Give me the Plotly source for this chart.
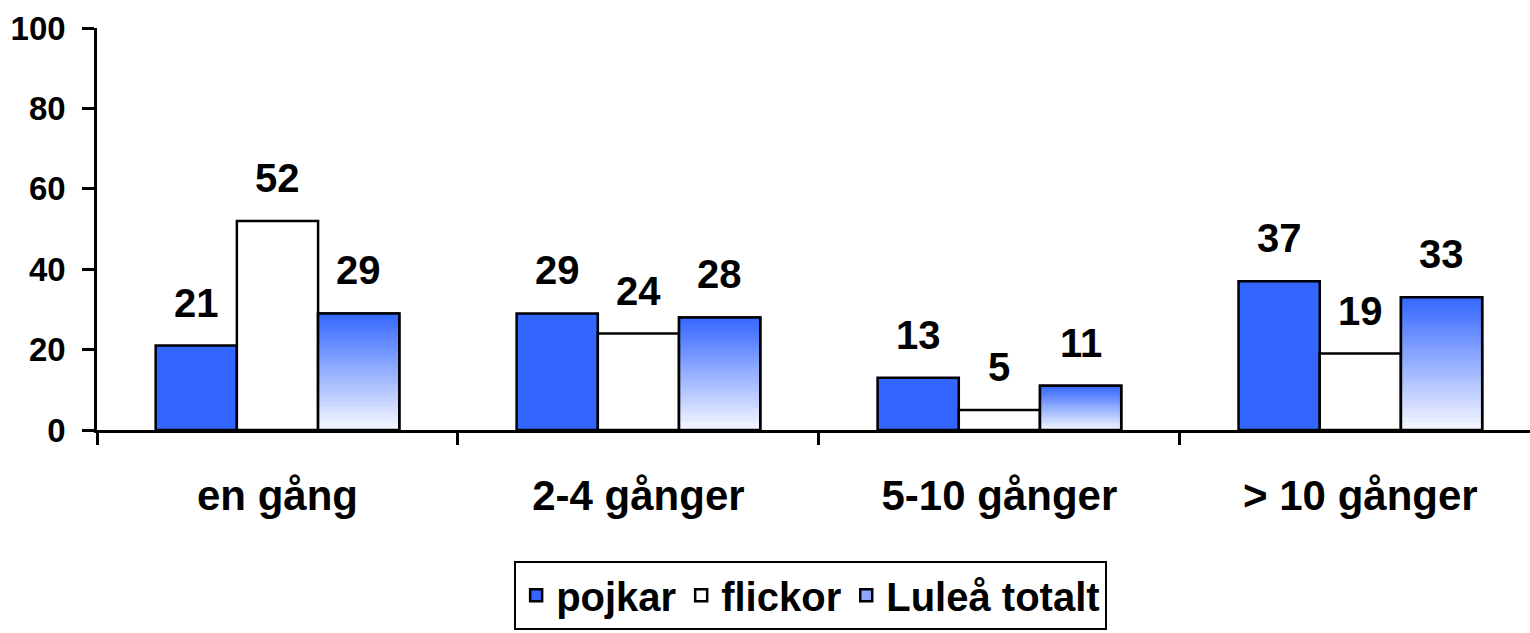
import plotly.graph_objects as go

# ---- data ----
categories = ["en gång", "2-4 gånger", "5-10 gånger", "> 10 gånger"]
pojkar = [21, 29, 13, 37]
flickor = [52, 24, 5, 19]
lulea_totalt = [29, 28, 11, 33]
series_names = ["pojkar", "flickor", "Luleå totalt"]
y_ticks = [0, 20, 40, 60, 80, 100]

# ---- style ----
FONT = "Arial, Liberation Sans, sans-serif"
BLUE = (51, 102, 255)
WHITE = (250, 251, 255)
BARGAP = 0.325
N_SEG = 48
OUTLINE = dict(color="black", width=2.5)

fig = go.Figure()

fig.add_trace(go.Bar(
    x=categories, y=pojkar, name=series_names[0], offsetgroup="a",
    marker=dict(color="rgb(51,102,255)", line=OUTLINE), hoverinfo="skip",
))
fig.add_trace(go.Bar(
    x=categories, y=flickor, name=series_names[1], offsetgroup="b",
    marker=dict(color="white", line=OUTLINE), hoverinfo="skip",
))
# legend entry for the gradient series (covered by gradient segments)
fig.add_trace(go.Bar(
    x=categories, y=lulea_totalt, name=series_names[2], offsetgroup="c",
    marker=dict(color="rgb(140,165,255)", line=OUTLINE), hoverinfo="skip",
))
# vertical gradient: white at bottom -> blue at top
for i in range(N_SEG):
    t = (i + 0.5) / N_SEG
    col = tuple(round(WHITE[k] + t * (BLUE[k] - WHITE[k])) for k in range(3))
    c = "rgb(%d,%d,%d)" % col
    fig.add_trace(go.Bar(
        x=categories,
        y=[v / N_SEG for v in lulea_totalt],
        base=[v * i / N_SEG for v in lulea_totalt],
        offsetgroup="c", showlegend=False, hoverinfo="skip",
        marker=dict(color=c, line=dict(color=c, width=0.6)),
    ))
fig.add_trace(go.Bar(
    x=categories, y=lulea_totalt, offsetgroup="c", showlegend=False,
    marker=dict(color="rgba(0,0,0,0)", line=OUTLINE), hoverinfo="skip",
))

# value labels above bars
bar_w = (1 - BARGAP) / 3
for j, vals in enumerate([pojkar, flickor, lulea_totalt]):
    for i, v in enumerate(vals):
        fig.add_annotation(
            x=i + (j - 1) * bar_w, y=v, xref="x", yref="y",
            text=str(v), showarrow=False, yanchor="bottom", yshift=19,
            font=dict(family=FONT, size=40, color="black", weight="bold"),
        )

fig.update_layout(
    width=1530, height=633,
    margin=dict(l=97, r=0, t=28, b=203),
    paper_bgcolor="white", plot_bgcolor="white",
    barmode="group", bargap=BARGAP, bargroupgap=0,
    font=dict(family=FONT, color="black", weight="bold"),
    showlegend=True,
    legend=dict(
        orientation="h", x=0.498, xanchor="center", y=-0.325, yanchor="top",
        bordercolor="black", borderwidth=2, bgcolor="white",
        font=dict(family=FONT, size=40, color="black", weight="bold"),
        traceorder="normal",
    ),
    xaxis=dict(
        type="category", range=[-0.5, 3.47],
        showline=True, linecolor="black", linewidth=2.5,
        ticks="outside", tickson="boundaries", ticklen=12, tickwidth=2.5,
        tickcolor="black", showgrid=False, zeroline=False,
        tickfont=dict(family=FONT, size=42, color="black", weight="bold"),
        ticklabelstandoff=27,
    ),
    yaxis=dict(
        range=[0, 100], tickvals=y_ticks,
        showline=True, linecolor="black", linewidth=2.5,
        ticks="outside", ticklen=12, tickwidth=2.5, tickcolor="black",
        showgrid=False, zeroline=False,
        tickfont=dict(family=FONT, size=33, color="black", weight="bold"),
        ticklabelstandoff=10,
    ),
)

fig.write_html(
    "out.html",
    config={"displayModeBar": False},
    post_script="document.body.style.margin='0';document.body.style.overflow='hidden';",
)
